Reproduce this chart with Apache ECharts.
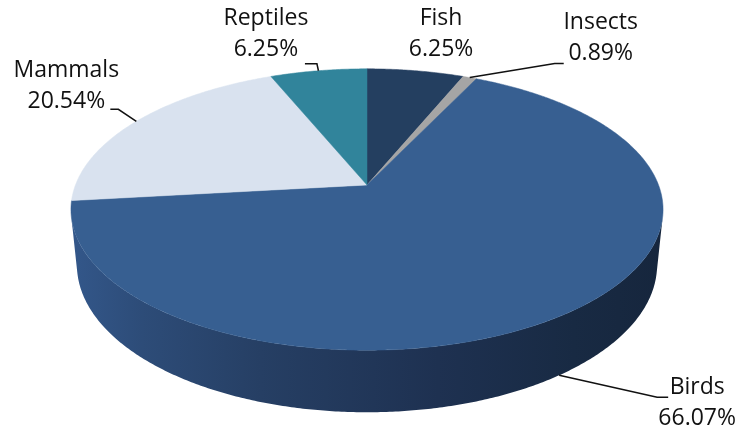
<!DOCTYPE html>
<html>
<head>
<meta charset="utf-8">
<script src="https://cdn.jsdelivr.net/npm/echarts@6/dist/echarts.min.js"></script>
<style>
  html, body { margin: 0; padding: 0; background: #ffffff; }
  #chart { width: 738px; height: 432px; }
</style>
</head>
<body>
<div id="chart"></div>
<script>
// Species counts per animal group
const categories = ['Fish', 'Insects', 'Birds', 'Mammals', 'Reptiles'];
const counts = [7, 1, 74, 23, 7];
const sliceColors = ['#243F60', '#A5A5A5', '#375F91', '#D9E2EF', '#31849B'];

// Tilted-disc camera: centre of the disc on screen, tilt, distance, focal length, thickness
const disc = { cx: 367, cy: 185, tiltDeg: 27.9, dist: 5.07, focal: 1478, depth: 0.2165 };

// Label placement relative to each slice's anchor point on the rim
const labelLayout = {
  Fish:     { dx: 25.5,  dy: -36.5 },
  Insects:  { dx: 131,   dy: -40,   elbow: [85, -14], tail: 9 },
  Birds:    { dx: 138,   dy: 28,    elbow: [98, 22],  tail: 11 },
  Mammals:  { dx: -70,   dy: -35,   elbow: [-18, -12], tail: -8 },
  Reptiles: { dx: -52.5, dy: -36.5, elbow: [-1.5, -7], tail: -12 }
};

const total = counts.reduce((a, b) => a + b, 0);
const startAt = [];
counts.reduce((acc, c) => { startAt.push(acc); return acc + c; }, 0);

const tilt = disc.tiltDeg * Math.PI / 180;
const cosT = Math.cos(tilt), sinT = Math.sin(tilt);
// rim angles (clockwise from the far point) whose side wall faces the viewer
const wallFrom = Math.acos(-1 / (disc.dist * cosT));
const wallTo = 2 * Math.PI - wallFrom;

// theta: clockwise from 12 o'clock; r: radius fraction; h: 0 = top face, 1 = bottom face
function project(theta, r, h) {
  const u = r * Math.sin(theta), v = r * Math.cos(theta);
  const d = disc.dist + h * disc.depth * sinT + v * cosT;
  const yc = -h * disc.depth * cosT + v * sinT;
  return [disc.cx + disc.focal * u / d, disc.cy - disc.focal * yc / d];
}

function arc(a0, a1, h) {
  const n = Math.max(2, Math.ceil((a1 - a0) / (Math.PI / 360)));
  const pts = [];
  for (let k = 0; k <= n; k++) pts.push(project(a0 + (a1 - a0) * k / n, 1, h));
  return pts;
}

function sliceAngles(i) {
  return [startAt[i] / total * 2 * Math.PI, (startAt[i] + counts[i]) / total * 2 * Math.PI];
}

const wallFill = new echarts.graphic.LinearGradient(0, 0, 1, 0, [
  { offset: 0, color: '#33578A' },
  { offset: 0.12, color: '#2D4C78' },
  { offset: 0.32, color: '#263F64' },
  { offset: 0.62, color: '#1E3151' },
  { offset: 0.85, color: '#182A43' },
  { offset: 1, color: '#16263D' }
]);

function renderWall(params) {
  const [a0, a1] = sliceAngles(params.dataIndex);
  const s = Math.max(a0, wallFrom), e = Math.min(a1, wallTo);
  if (e <= s) return { type: 'group', children: [] };
  const top = arc(s, e, 0);
  const bottom = arc(s, e, 1).reverse();
  return {
    type: 'polygon',
    shape: { points: top.concat(bottom) },
    style: { fill: wallFill, stroke: null }
  };
}

function renderTop(params) {
  const i = params.dataIndex;
  const [a0, a1] = sliceAngles(i);
  const pts = [project(0, 0, 0)].concat(arc(a0, a1, 0));
  return {
    type: 'polygon',
    shape: { points: pts },
    style: { fill: sliceColors[i], stroke: sliceColors[i], lineWidth: 0.5 }
  };
}

function renderLabel(params) {
  const i = params.dataIndex;
  const name = categories[i];
  const [a0, a1] = sliceAngles(i);
  const mid = (a0 + a1) / 2;
  const front = mid > wallFrom && mid < wallTo;
  const anchor = project(mid, 1, front ? 1 : 0);
  const lay = labelLayout[name];
  const pct = (counts[i] / total * 100).toFixed(2) + '%';
  const children = [{
    type: 'text',
    style: {
      text: name + '\n' + pct,
      x: anchor[0] + lay.dx,
      y: anchor[1] + lay.dy,
      fill: '#111111',
      fontFamily: '"Open Sans", sans-serif',
      fontSize: 23,
      lineHeight: 31,
      align: 'center',
      verticalAlign: 'middle'
    }
  }];
  if (lay.elbow) {
    const e = [anchor[0] + lay.elbow[0], anchor[1] + lay.elbow[1]];
    children.push({
      type: 'polyline',
      shape: { points: [anchor, e, [e[0] + lay.tail, e[1]]] },
      style: { stroke: '#111111', lineWidth: 1.5, fill: null }
    });
  }
  return { type: 'group', children };
}

const seriesData = counts.map((c, i) => ({ name: categories[i], value: c }));

const chart = echarts.init(document.getElementById('chart'), null, { renderer: 'canvas' });
chart.setOption({
  backgroundColor: '#ffffff',
  animation: false,
  series: [
    { type: 'custom', coordinateSystem: 'none', z: 1, silent: true, data: seriesData, renderItem: renderWall },
    { type: 'custom', coordinateSystem: 'none', z: 2, silent: true, data: seriesData, renderItem: renderTop },
    { type: 'custom', coordinateSystem: 'none', z: 3, silent: true, data: seriesData, renderItem: renderLabel }
  ]
});
</script>
</body>
</html>
